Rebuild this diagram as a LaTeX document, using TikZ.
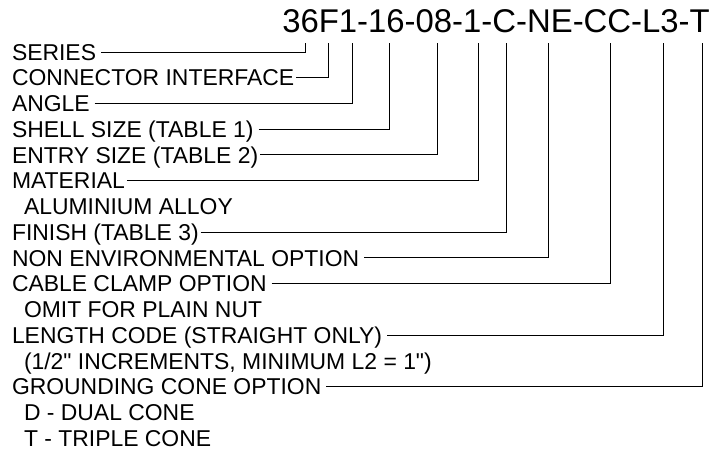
\documentclass[tikz,border=0pt]{standalone}
\usepackage{fontspec}
\newfontfamily\hv{Liberation Sans}
\tikzset{
  lbl/.style={anchor=west,inner sep=2bp,outer sep=0pt,text height=16.5bp,text depth=0pt,font=\hv\fontsize{23}{25}\selectfont},
  lead/.style={line width=0.8bp},
}
\begin{document}
\begin{tikzpicture}[x=1bp,y=-1bp]
  \useasboundingbox (0,0) rectangle (712,450);
  \node[anchor=base east,inner sep=0pt,font=\hv\fontsize{33}{33}\selectfont] (code) at (710,33) {36F1-16-08-1-C-NE-CC-L3-T};
  % tops of the leaders, under the code
  \coordinate (tSer) at (305,43);
  \coordinate (tCon) at (328,43);
  \coordinate (tAng) at (352,43);
  \coordinate (tShe) at (389,43);
  \coordinate (tEnt) at (437,43);
  \coordinate (tMat) at (478,43);
  \coordinate (tFin) at (506,43);
  \coordinate (tNon) at (548,43);
  \coordinate (tCab) at (610,43);
  \coordinate (tLen) at (663,43);
  \coordinate (tGro) at (702,43);
  % labels
  \node[lbl] (series) at (10,52) {SERIES};
  \node[lbl] (conn) at (10,77.7) {CONNECTOR INTERFACE};
  \node[lbl] (angle) at (10,103.5) {ANGLE};
  \node[lbl] (shell) at (10,129.2) {SHELL SIZE (TABLE 1)};
  \node[lbl] (entry) at (10,154.9) {ENTRY SIZE (TABLE 2)};
  \node[lbl] (mat) at (10,180.7) {MATERIAL};
  \node[lbl] (alu) at (22,206.4) {ALUMINIUM ALLOY};
  \node[lbl] (finish) at (10,232.1) {FINISH (TABLE 3)};
  \node[lbl] (nonenv) at (10,257.8) {NON ENVIRONMENTAL OPTION};
  \node[lbl] (clamp) at (10,283.6) {CABLE CLAMP OPTION};
  \node[lbl] (omit) at (22,309.3) {OMIT FOR PLAIN NUT};
  \node[lbl] (length) at (10,335) {LENGTH CODE (STRAIGHT ONLY)};
  \node[lbl] (incr) at (22,360.8) {(1/2" INCREMENTS, MINIMUM L2 = 1")};
  \node[lbl] (ground) at (10,386.5) {GROUNDING CONE OPTION};
  \node[lbl] (dual) at (22,412.2) {D - DUAL CONE};
  \node[lbl] (triple) at (22,438) {T - TRIPLE CONE};
  % leaders
  \draw[lead] ([xshift=3bp]series.east) -| (tSer);
  \draw[lead] (conn.east) -| (tCon);
  \draw[lead] ([xshift=3bp]angle.east) -| (tAng);
  \draw[lead] ([xshift=3bp]shell.east) -| (tShe);
  \draw[lead] (entry.east) -| (tEnt);
  \draw[lead] (mat.east) -| (tMat);
  \draw[lead] (finish.east) -| (tFin);
  \draw[lead] ([xshift=3bp]nonenv.east) -| (tNon);
  \draw[lead] ([xshift=3bp]clamp.east) -| (tCab);
  \draw[lead] ([xshift=3bp]length.east) -| (tLen);
  \draw[lead] ([xshift=3bp]ground.east) -| (tGro);
\end{tikzpicture}
\end{document}
